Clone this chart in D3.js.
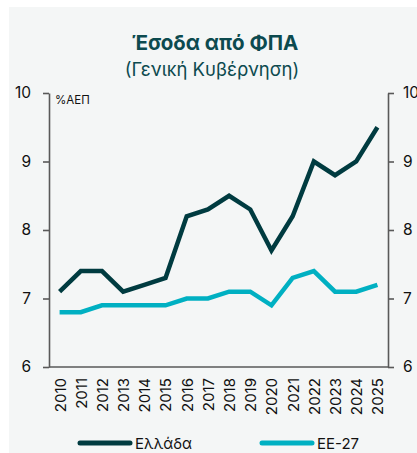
<!DOCTYPE html>
<html>
<head>
<meta charset="utf-8">
<script src="https://cdn.jsdelivr.net/npm/d3@7"></script>
<style>
  body { margin: 0; background: #fff; }
  svg { display: block; font-family: "Inter", "Roboto", sans-serif; }
</style>
</head>
<body>
<div id="chart"></div>
<script>
// data
var years = ["2010","2011","2012","2013","2014","2015","2016","2017","2018","2019","2020","2021","2022","2023","2024","2025"];
var greece = [7.1, 7.4, 7.4, 7.1, 7.2, 7.3, 8.2, 8.3, 8.5, 8.3, 7.7, 8.2, 9.0, 8.8, 9.0, 9.5];
var eu27 = [6.8, 6.8, 6.9, 6.9, 6.9, 6.9, 7.0, 7.0, 7.1, 7.1, 6.9, 7.3, 7.4, 7.1, 7.1, 7.2];
var yTicks = [6, 7, 8, 9, 10];
var seriesNames = ["Ελλάδα", "ΕΕ-27"];

var width = 417, height = 453;
var plotLeft = 49, plotRight = 388, plotTop = 93, plotBottom = 367;
var colors = ["#003b40", "#00b0c2"];

var svg = d3.select("#chart").append("svg")
  .attr("width", width)
  .attr("height", height);

// panel background
svg.append("rect")
  .attr("x", 9).attr("y", 7)
  .attr("width", width - 9).attr("height", height - 7)
  .attr("fill", "#f4f6f6");

// titles
svg.append("text")
  .attr("x", 215).attr("y", 50)
  .attr("text-anchor", "middle")
  .attr("font-size", "20.5px")
  .attr("font-weight", "bold")
  .attr("fill", "#0c4a4f")
  .text("Έσοδα από ΦΠΑ");
svg.append("text")
  .attr("x", 212).attr("y", 76)
  .attr("text-anchor", "middle")
  .attr("font-size", "18.5px")
  .attr("fill", "#0c4a4f")
  .text("(Γενική Κυβέρνηση)");

var x = d3.scalePoint().domain(years).range([plotLeft, plotRight]).padding(0.5);
var y = d3.scaleLinear().domain([6, 10]).range([plotBottom, plotTop]);

// left axis
var yl = svg.append("g")
  .attr("transform", "translate(" + plotLeft + ",0)")
  .call(d3.axisLeft(y).tickValues(yTicks).tickFormat(d3.format("d"))
    .tickSize(6).tickPadding(12).tickSizeOuter(0));
// right axis
var yr = svg.append("g")
  .attr("transform", "translate(" + plotRight + ",0)")
  .call(d3.axisRight(y).tickValues(yTicks).tickFormat(d3.format("d"))
    .tickSize(6).tickPadding(9).tickSizeOuter(0));
// bottom axis
var xa = svg.append("g")
  .attr("transform", "translate(0," + plotBottom + ")")
  .call(d3.axisBottom(x).tickSize(0).tickSizeOuter(0).tickPadding(10));
xa.select(".domain").attr("d", "M" + plotLeft + ",0H" + plotRight);
xa.selectAll("text")
  .attr("transform", "rotate(-90)")
  .attr("x", -11).attr("y", 0).attr("dy", "0.36em")
  .attr("text-anchor", "end");

[yl, yr, xa].forEach(function(g) {
  g.selectAll(".domain").attr("stroke", "#595959").attr("stroke-width", 1.6);
  g.selectAll(".tick line").attr("stroke", "#595959").attr("stroke-width", 1.6);
  g.selectAll("text").attr("fill", "#111").attr("font-size", "15.5px").attr("font-family", "Inter, Roboto, sans-serif");
});
xa.selectAll("text").attr("font-size", "15px");

// unit label
svg.append("text")
  .attr("x", 55).attr("y", 104)
  .attr("font-size", "11.5px")
  .attr("fill", "#111")
  .text("%ΑΕΠ");

var line = d3.line()
  .x(function(d, i) { return x(years[i]); })
  .y(function(d) { return y(d); });

[eu27, greece].forEach(function(s, k) {
  svg.append("path")
    .datum(s)
    .attr("d", line)
    .attr("fill", "none")
    .attr("stroke", colors[1 - k])
    .attr("stroke-width", 4.5)
    .attr("stroke-linejoin", "miter");
});

// legend
var legX = [80, 262];
seriesNames.forEach(function(n, i) {
  svg.append("line")
    .attr("x1", legX[i]).attr("x2", legX[i] + 50)
    .attr("y1", 443).attr("y2", 443)
    .attr("stroke", colors[i])
    .attr("stroke-width", 5)
    .attr("stroke-linecap", "round");
  svg.append("text")
    .attr("x", legX[i] + 55).attr("y", 448.5)
    .attr("font-size", "15px")
    .attr("fill", "#111")
    .text(n);
});
</script>
</body>
</html>
